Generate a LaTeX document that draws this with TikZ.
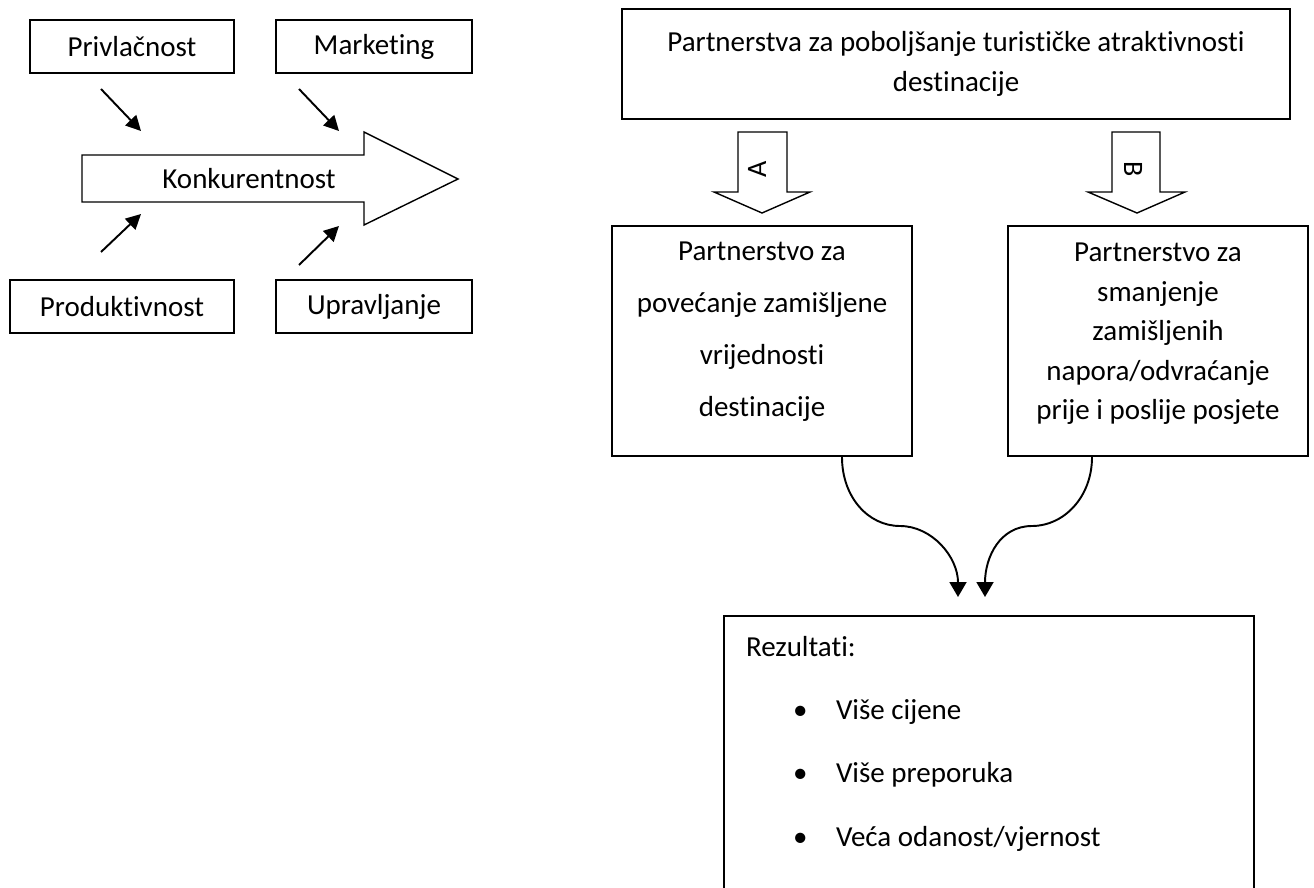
\documentclass[tikz,border=0pt]{standalone}
\usepackage{fontspec}
\setmainfont{Carlito}[Ligatures=NoCommon]
\usetikzlibrary{positioning, arrows.meta}

\begin{document}
\begin{tikzpicture}[
  x=0.02cm, y=-0.02cm,
  every node/.style={align=center, font=\fontsize{16.5}{22.5}\selectfont,
    execute at begin node={\spaceskip=0pt\xspaceskip=0pt}},
  box/.style={draw, line width=1.1pt, inner sep=0pt},
  smallbox/.style={box, minimum height=1.06cm},
  bigbox/.style={box, minimum width=6cm, minimum height=4.6cm},
  hollow/.style={draw, line width=0.8pt, line join=miter},
  letter/.style={font=\fontsize{16}{18}\selectfont, inner sep=0pt},
  arrow/.style={-{Triangle[length=0.3cm, width=0.3cm]}, line width=1.1pt},
  curvearrow/.style={-{Triangle[length=0.3cm, width=0.34cm]}, line width=1.1pt}
  ]
\useasboundingbox (0,0) rectangle (1314,888);
\clip (0,0) rectangle (1314,888);

% left part
\node[smallbox, minimum width=4.08cm] (priv) at (132,46.5) {Privlačnost};
\node[smallbox, minimum width=3.92cm] (mark) at (374,46.5) {Marketing};
\node[smallbox, minimum width=4.48cm] (prod) at (122,306.5) {Produktivnost};
\node[smallbox, minimum width=3.92cm] (uprav) at (374,306.5) {Upravljanje};

\draw[hollow] (82,155) -- (364,155) -- (364,132) -- (458,179) -- (364,225) -- (364,202) -- (82,202) -- cycle;
\node (konk) at (249,179) {Konkurentnost};

\coordinate (p1) at (101,89);  \coordinate (p2) at (141,131);
\coordinate (m1) at (299,89);  \coordinate (m2) at (339,131);
\coordinate (d1) at (101,252); \coordinate (d2) at (141,214);
\coordinate (u1) at (299,265); \coordinate (u2) at (339,226);
\draw[arrow] (p1) -- (p2);
\draw[arrow] (m1) -- (m2);
\draw[arrow] (d1) -- (d2);
\draw[arrow] (u1) -- (u2);

% right part
\node[box, minimum width=13.36cm, minimum height=2.2cm, font=\fontsize{16.5}{22.8}\selectfont] (part) at (956,64)
  {Partnerstva za poboljšanje turističke atraktivnosti\\destinacije};

\draw[hollow] (738,132) -- (787,132) -- (787,192) -- (810,192) -- (762,213) -- (714,192) -- (738,192) -- cycle;
\node[letter, rotate=90] (la) at (757,169) {A};
\draw[hollow] (1112,132) -- (1160,132) -- (1160,192) -- (1185,192) -- (1137,213) -- (1088,192) -- (1112,192) -- cycle;
\node[letter, rotate=-90] (lb) at (1133,169) {B};

\node[bigbox, font=\fontsize{16.5}{29.6}\selectfont] (pa) at (762,341)
  {Partnerstvo za\\povećanje zamišljene\\vrijednosti\\destinacije\rule[-0.46cm]{0pt}{0pt}};
\node[bigbox] (pb) at (1158,341)
  {Partnerstvo za\\smanjenje\\zamišljenih\\napora/odvraćanje\\prije i poslije posjete\rule[-0.38cm]{0pt}{0pt}};

\node[box, minimum width=10.6cm, minimum height=5.76cm, text width=9.72cm, align=left,
  font=\fontsize{16.5}{36}\selectfont] (rez) at (989,760)
  {Rezultati:\\
   \hspace*{0.94cm}\makebox[0.86cm][l]{\textbullet}Više cijene\\
   \hspace*{0.94cm}\makebox[0.86cm][l]{\textbullet}Više preporuka\\
   \hspace*{0.94cm}\makebox[0.86cm][l]{\textbullet}Veća odanost/vjernost\rule[-0.75cm]{0pt}{0pt}};

\coordinate (ta) at (958,597);
\coordinate (tb) at (985,597);
\draw[curvearrow] ([xshift=1.6cm]pa.south) .. controls +(0,40) and +(-32,0) .. (900,526)
  .. controls +(32,0) and +(0,-40) .. (ta);
\draw[curvearrow] ([xshift=-1.32cm]pb.south) .. controls +(0,40) and +(32,0) .. (1032,526)
  .. controls +(-32,0) and +(0,-40) .. (tb);
\end{tikzpicture}
\end{document}
